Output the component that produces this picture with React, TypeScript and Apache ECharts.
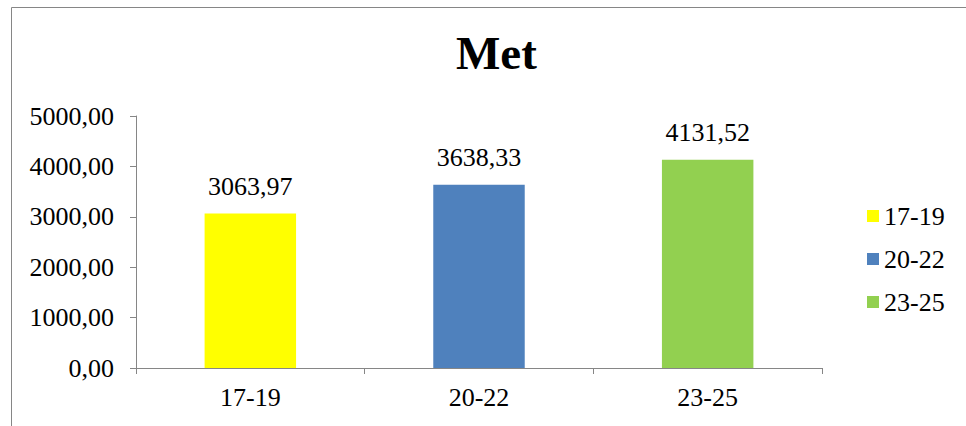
import React, { useEffect, useRef } from "react";
import * as echarts from "echarts";

// Period groups and their values
const categories = ["17-19", "20-22", "23-25"];
const values = [3063.97, 3638.33, 4131.52];
const colors = ["#FFFF00", "#4F81BD", "#92D050"];
const yTicks = { min: 0, max: 5000, interval: 1000 };

const FONT = "Liberation Serif";
const fmt = (v: number) => v.toFixed(2).replace(".", ",");

export default function App() {
  const ref = useRef<HTMLDivElement>(null);

  useEffect(() => {
    if (!ref.current) return;
    const chart = echarts.init(ref.current, undefined, { renderer: "svg" });

    // One series per period, each holding only its own category, stacked so bars stay centered
    const series = categories.map((name, i) => ({
      name,
      type: "bar" as const,
      stack: "periods",
      barWidth: "40%",
      itemStyle: { color: colors[i] },
      label: {
        show: true,
        position: "top" as const,
        distance: 14,
        fontFamily: FONT,
        fontSize: 26,
        color: "#000",
        formatter: (p: any) => fmt(p.value),
      },
      data: categories.map((_, j) => (j === i ? values[i] : "-")),
    }));

    chart.setOption({
      animation: false,
      backgroundColor: "#fff",
      textStyle: { fontFamily: FONT },
      title: {
        text: "Met",
        left: 451,
        top: 24,
        textStyle: { fontFamily: FONT, fontSize: 47, fontWeight: "bold", color: "#000" },
      },
      graphic: [
        {
          type: "rect",
          shape: { x: 11.5, y: 7.5, width: 1200, height: 600 },
          style: { fill: "none", stroke: "#868686", lineWidth: 1 },
          silent: true,
        },
      ],
      legend: {
        orient: "vertical",
        left: 862,
        top: 198,
        itemWidth: 12,
        itemHeight: 12,
        itemGap: 17,
        icon: "rect",
        textStyle: { fontFamily: FONT, fontSize: 26, color: "#000", lineHeight: 26 },
        data: categories,
      },
      grid: { left: 136, right: 144, top: 116, bottom: 58, containLabel: false },
      xAxis: {
        type: "category",
        data: categories,
        axisLine: { lineStyle: { color: "#868686" } },
        axisTick: { show: true, length: 6, lineStyle: { color: "#868686" } },
        axisLabel: { fontFamily: FONT, fontSize: 26, color: "#000", margin: 16 },
      },
      yAxis: {
        type: "value",
        min: yTicks.min,
        max: yTicks.max,
        interval: yTicks.interval,
        axisLine: { show: true, lineStyle: { color: "#868686" } },
        axisTick: { show: true, length: 6, lineStyle: { color: "#868686" } },
        splitLine: { show: false },
        axisLabel: {
          fontFamily: FONT,
          fontSize: 26,
          color: "#000",
          margin: 22,
          formatter: (v: number) => fmt(v),
        },
      },
      series,
    });

    return () => chart.dispose();
  }, []);

  return (
    <div
      ref={ref}
      style={{ position: "fixed", left: 0, top: 0, width: 966, height: 426 }}
    />
  );
}
